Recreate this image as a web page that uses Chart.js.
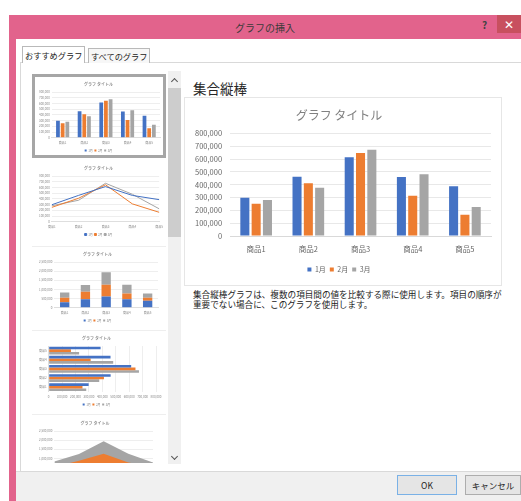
<!DOCTYPE html>
<html>
<head>
<meta charset="utf-8">
<title>グラフの挿入</title>
<script src="https://cdn.jsdelivr.net/npm/chart.js@4.4.0/dist/chart.umd.min.js"></script>
<style>
  body { margin: 0; width: 521px; height: 501px; background: #fff; position: relative; overflow: hidden;
         font-family: "Noto Sans CJK JP", sans-serif; }
  .abs { position: absolute; }
  #dlg { left: 9px; top: 15px; width: 512px; height: 486px; background: #e2638c; }
  #dlgTitle { left: 9px; top: 15px; width: 512px; height: 24px; line-height: 26px; text-align: center;
              font-size: 10px; color: #3a3a3a; }
  #help { left: 482px; top: 17px; font-size: 10px; color: #444; font-weight: bold; }
  #close { left: 497px; top: 15px; width: 24px; height: 18px; background: #c8505f; color: #fff;
           font-size: 12px; line-height: 18px; text-align: center; }
  #body { left: 16px; top: 39px; width: 505px; height: 462px; background: #fff; }
  #footer { left: 16px; top: 471px; width: 505px; height: 30px; background: #f0f0f0; border-top: 1px solid #dcdcdc; }
  .tab { top: 48px; height: 14px; line-height: 14px; font-size: 8.2px; color: #222; border: 1px solid #b9b9b9;
         border-bottom: none; padding: 0 2px; }
  #panel { left: 20px; top: 62px; width: 510px; height: 408px; border: 1px solid #d9d9d9; }
  #list { left: 27px; top: 70px; width: 141px; height: 393px; overflow: hidden; background: #fff; }
  .thumb { position: absolute; left: 5px; width: 134px; background: #fff; overflow: hidden; }
  .thumb canvas { position: absolute; left: 0; top: 0; }
  #sbTrack { left: 168px; top: 71px; width: 13px; height: 393px; background: #f0f0f0; }
  #sbThumb { left: 168px; top: 88px; width: 13px; height: 149px; background: #cdcdcd; }
  .chev { width: 4px; height: 4px; border-left: 1.5px solid #555; border-top: 1.5px solid #555; }
  #heading { left: 193px; top: 78px; font-size: 13.5px; color: #262626; }
  #card { left: 184px; top: 97px; width: 316px; height: 187px; border: 1px solid #e6e6e6; background: #fff; }
  #desc { left: 193px; top: 289px; width: 320px; font-size: 8.6px; line-height: 10px; color: #222; white-space: nowrap; }
  .btn { top: 475px; height: 18px; line-height: 18px; text-align: center; font-size: 8.5px; color: #222;
         background: #e5e5e5; border: 1px solid #adadad; }
</style>
</head>
<body>
<div id="dlg" class="abs"></div>
<div id="dlgTitle" class="abs">グラフの挿入</div>
<div id="help" class="abs">?</div>
<div id="close" class="abs">✕</div>
<div id="body" class="abs"></div>
<div id="footer" class="abs"></div>

<div id="panel" class="abs"></div>
<div class="abs tab" style="left:22px; top:46px; height:16px; line-height:16px; background:#fff;">おすすめグラフ</div>
<div class="abs tab" style="left:88px; background:#f7f7f7;">すべてのグラフ</div>

<div id="list" class="abs">
  <div class="thumb" style="top:4px; height:84px; border:3px solid #a6a6a6; box-sizing:border-box;">
    <canvas id="t1"></canvas>
  </div>
  <div class="thumb" style="top:91px; height:85px; border-bottom:1px solid #eee;"><canvas id="t2"></canvas></div>
  <div class="thumb" style="top:177px; height:83px; border-bottom:1px solid #eee;"><canvas id="t3"></canvas></div>
  <div class="thumb" style="top:261px; height:83px; border-bottom:1px solid #eee;"><canvas id="t4"></canvas></div>
  <div class="thumb" style="top:346px; height:90px;"><canvas id="t5"></canvas></div>
</div>
<div id="sbTrack" class="abs"></div>
<div id="sbThumb" class="abs"></div>
<div class="abs chev" style="left:172px; top:79px; transform:rotate(45deg);"></div>
<div class="abs chev" style="left:172px; top:454px; transform:rotate(225deg);"></div>

<div id="heading" class="abs">集合縦棒</div>
<div id="card" class="abs"><canvas id="main"></canvas></div>
<div id="desc" class="abs">集合縦棒グラフは、複数の項目間の値を比較する際に使用します。項目の順序が<br>重要でない場合に、このグラフを使用します。</div>

<div class="abs btn" style="left:397px; width:58px; border-color:#7ab1e6;">OK</div>
<div class="abs btn" style="left:465px; width:54px;">キャンセル</div>

<script>
  // Data
  const categories = ['商品1', '商品2', '商品3', '商品4', '商品5'];
  const seriesNames = ['1月', '2月', '3月'];
  const jan = [298000, 462000, 615000, 461000, 387000];
  const feb = [252000, 412000, 647000, 313000, 166000];
  const mar = [280000, 377000, 673000, 481000, 227000];
  const seriesColors = ['#4472c4', '#ed7d31', '#a5a5a5'];
  const mainMax = 800000, mainStep = 100000;
  const stackMax = 2500000, stackStep = 500000;
  const chartTitle = 'グラフ タイトル';

  Chart.defaults.font.family = "'Noto Sans CJK JP', sans-serif";
  Chart.defaults.animation = false;

  const fmt = v => v.toLocaleString('en-US');

  function datasets(extra) {
    return [jan, feb, mar].map((d, i) => Object.assign({
      label: seriesNames[i],
      data: d,
      backgroundColor: seriesColors[i],
      borderColor: seriesColors[i]
    }, extra || {}));
  }

  function makeChart(id, w, h, config) {
    const c = document.getElementById(id);
    c.width = w; c.height = h;
    c.style.width = w + 'px'; c.style.height = h + 'px';
    config.options.responsive = false;
    return new Chart(c, config);
  }

  // Main chart
  makeChart('main', 316, 187, {
    type: 'bar',
    data: { labels: categories, datasets: datasets({ categoryPercentage: 0.65, barPercentage: 0.8 }) },
    options: {
      layout: { padding: { left: 2, right: 10, top: 0, bottom: 2 } },
      plugins: {
        title: { display: true, text: chartTitle, color: '#808080',
                 font: { size: 12, weight: 'normal' }, padding: { top: 10, bottom: 11 } },
        legend: { position: 'bottom',
                  labels: { boxWidth: 4, boxHeight: 4, padding: 4, color: '#666', font: { size: 7 } } },
        tooltip: { enabled: false }
      },
      scales: {
        x: { grid: { display: false, drawTicks: false }, border: { color: '#d9d9d9' },
             ticks: { color: '#666', font: { size: 7.5 }, padding: 8.5 } },
        y: { min: 0, max: mainMax, border: { display: false }, grid: { color: '#e8e8e8', drawTicks: false },
             ticks: { stepSize: mainStep, color: '#666', font: { size: 7.5 }, padding: 8, callback: fmt } }
      }
    }
  });

  // Thumbnail helpers
  const tickFont = { size: 3 };
  function thumbOptions(left, right) {
    return {
      layout: { padding: { left: left, right: right, top: 0, bottom: 0 } },
      plugins: {
        title: { display: true, text: chartTitle, color: '#909090', font: { size: 4 }, padding: { top: 4.6, bottom: 5.6 } },
        legend: { position: 'bottom', labels: { boxWidth: 2, boxHeight: 2, padding: 1.6, color: '#888', font: tickFont } },
        tooltip: { enabled: false }
      },
      scales: {
        x: { grid: { display: false, drawTicks: false }, border: { color: '#dedede' },
             ticks: { color: '#888', font: tickFont, padding: 3, maxRotation: 0, autoSkip: false } },
        y: { min: 0, border: { display: false }, grid: { color: '#eeeeee', drawTicks: false },
             ticks: { color: '#888', font: tickFont, padding: 2, autoSkip: false, callback: fmt } }
      }
    };
  }

  // 1: clustered column (selected)
  const o1 = thumbOptions(2, 3);
  o1.scales.y.max = mainMax; o1.scales.y.ticks.stepSize = mainStep;
  makeChart('t1', 128, 85, { type: 'bar',
    data: { labels: categories, datasets: datasets({ categoryPercentage: 0.65, barPercentage: 0.8 }) }, options: o1 });

  // 2: line
  const o2 = thumbOptions(5, 6);
  o2.scales.y.max = mainMax; o2.scales.y.ticks.stepSize = mainStep;
  makeChart('t2', 134, 85, { type: 'line',
    data: { labels: categories, datasets: datasets({ borderWidth: 1, pointRadius: 0, tension: 0 }) }, options: o2 });

  // 3: stacked column
  const o3 = thumbOptions(5, 8);
  o3.scales.x.stacked = true; o3.scales.y.stacked = true;
  o3.scales.y.max = stackMax; o3.scales.y.ticks.stepSize = stackStep;
  makeChart('t3', 134, 85, { type: 'bar',
    data: { labels: categories, datasets: datasets({ categoryPercentage: 0.45, barPercentage: 1 }) }, options: o3 });

  // 4: clustered horizontal bar
  const o4 = thumbOptions(5, 10);
  o4.indexAxis = 'y';
  o4.scales = {
    y: { reverse: true, grid: { display: false, drawTicks: false }, border: { color: '#dedede' },
         ticks: { color: '#888', font: tickFont, padding: 2, autoSkip: false } },
    x: { min: 0, max: mainMax, border: { display: false }, grid: { color: '#eeeeee', drawTicks: false },
         ticks: { stepSize: mainStep, color: '#888', font: tickFont, padding: 3, maxRotation: 0, autoSkip: false, callback: fmt } }
  };
  makeChart('t4', 134, 85, { type: 'bar',
    data: { labels: categories, datasets: datasets({ categoryPercentage: 0.85, barPercentage: 1 }) }, options: o4 });

  // 5: stacked area (cut off by the list)
  const o5 = thumbOptions(5, 13);
  o5.scales.x.offset = false;
  o5.scales.y.stacked = true;
  o5.scales.y.max = stackMax; o5.scales.y.ticks.stepSize = stackStep;
  makeChart('t5', 134, 85, { type: 'line',
    data: { labels: categories, datasets: datasets({ fill: true, borderWidth: 0, pointRadius: 0, tension: 0 }) }, options: o5 });
</script>
</body>
</html>
